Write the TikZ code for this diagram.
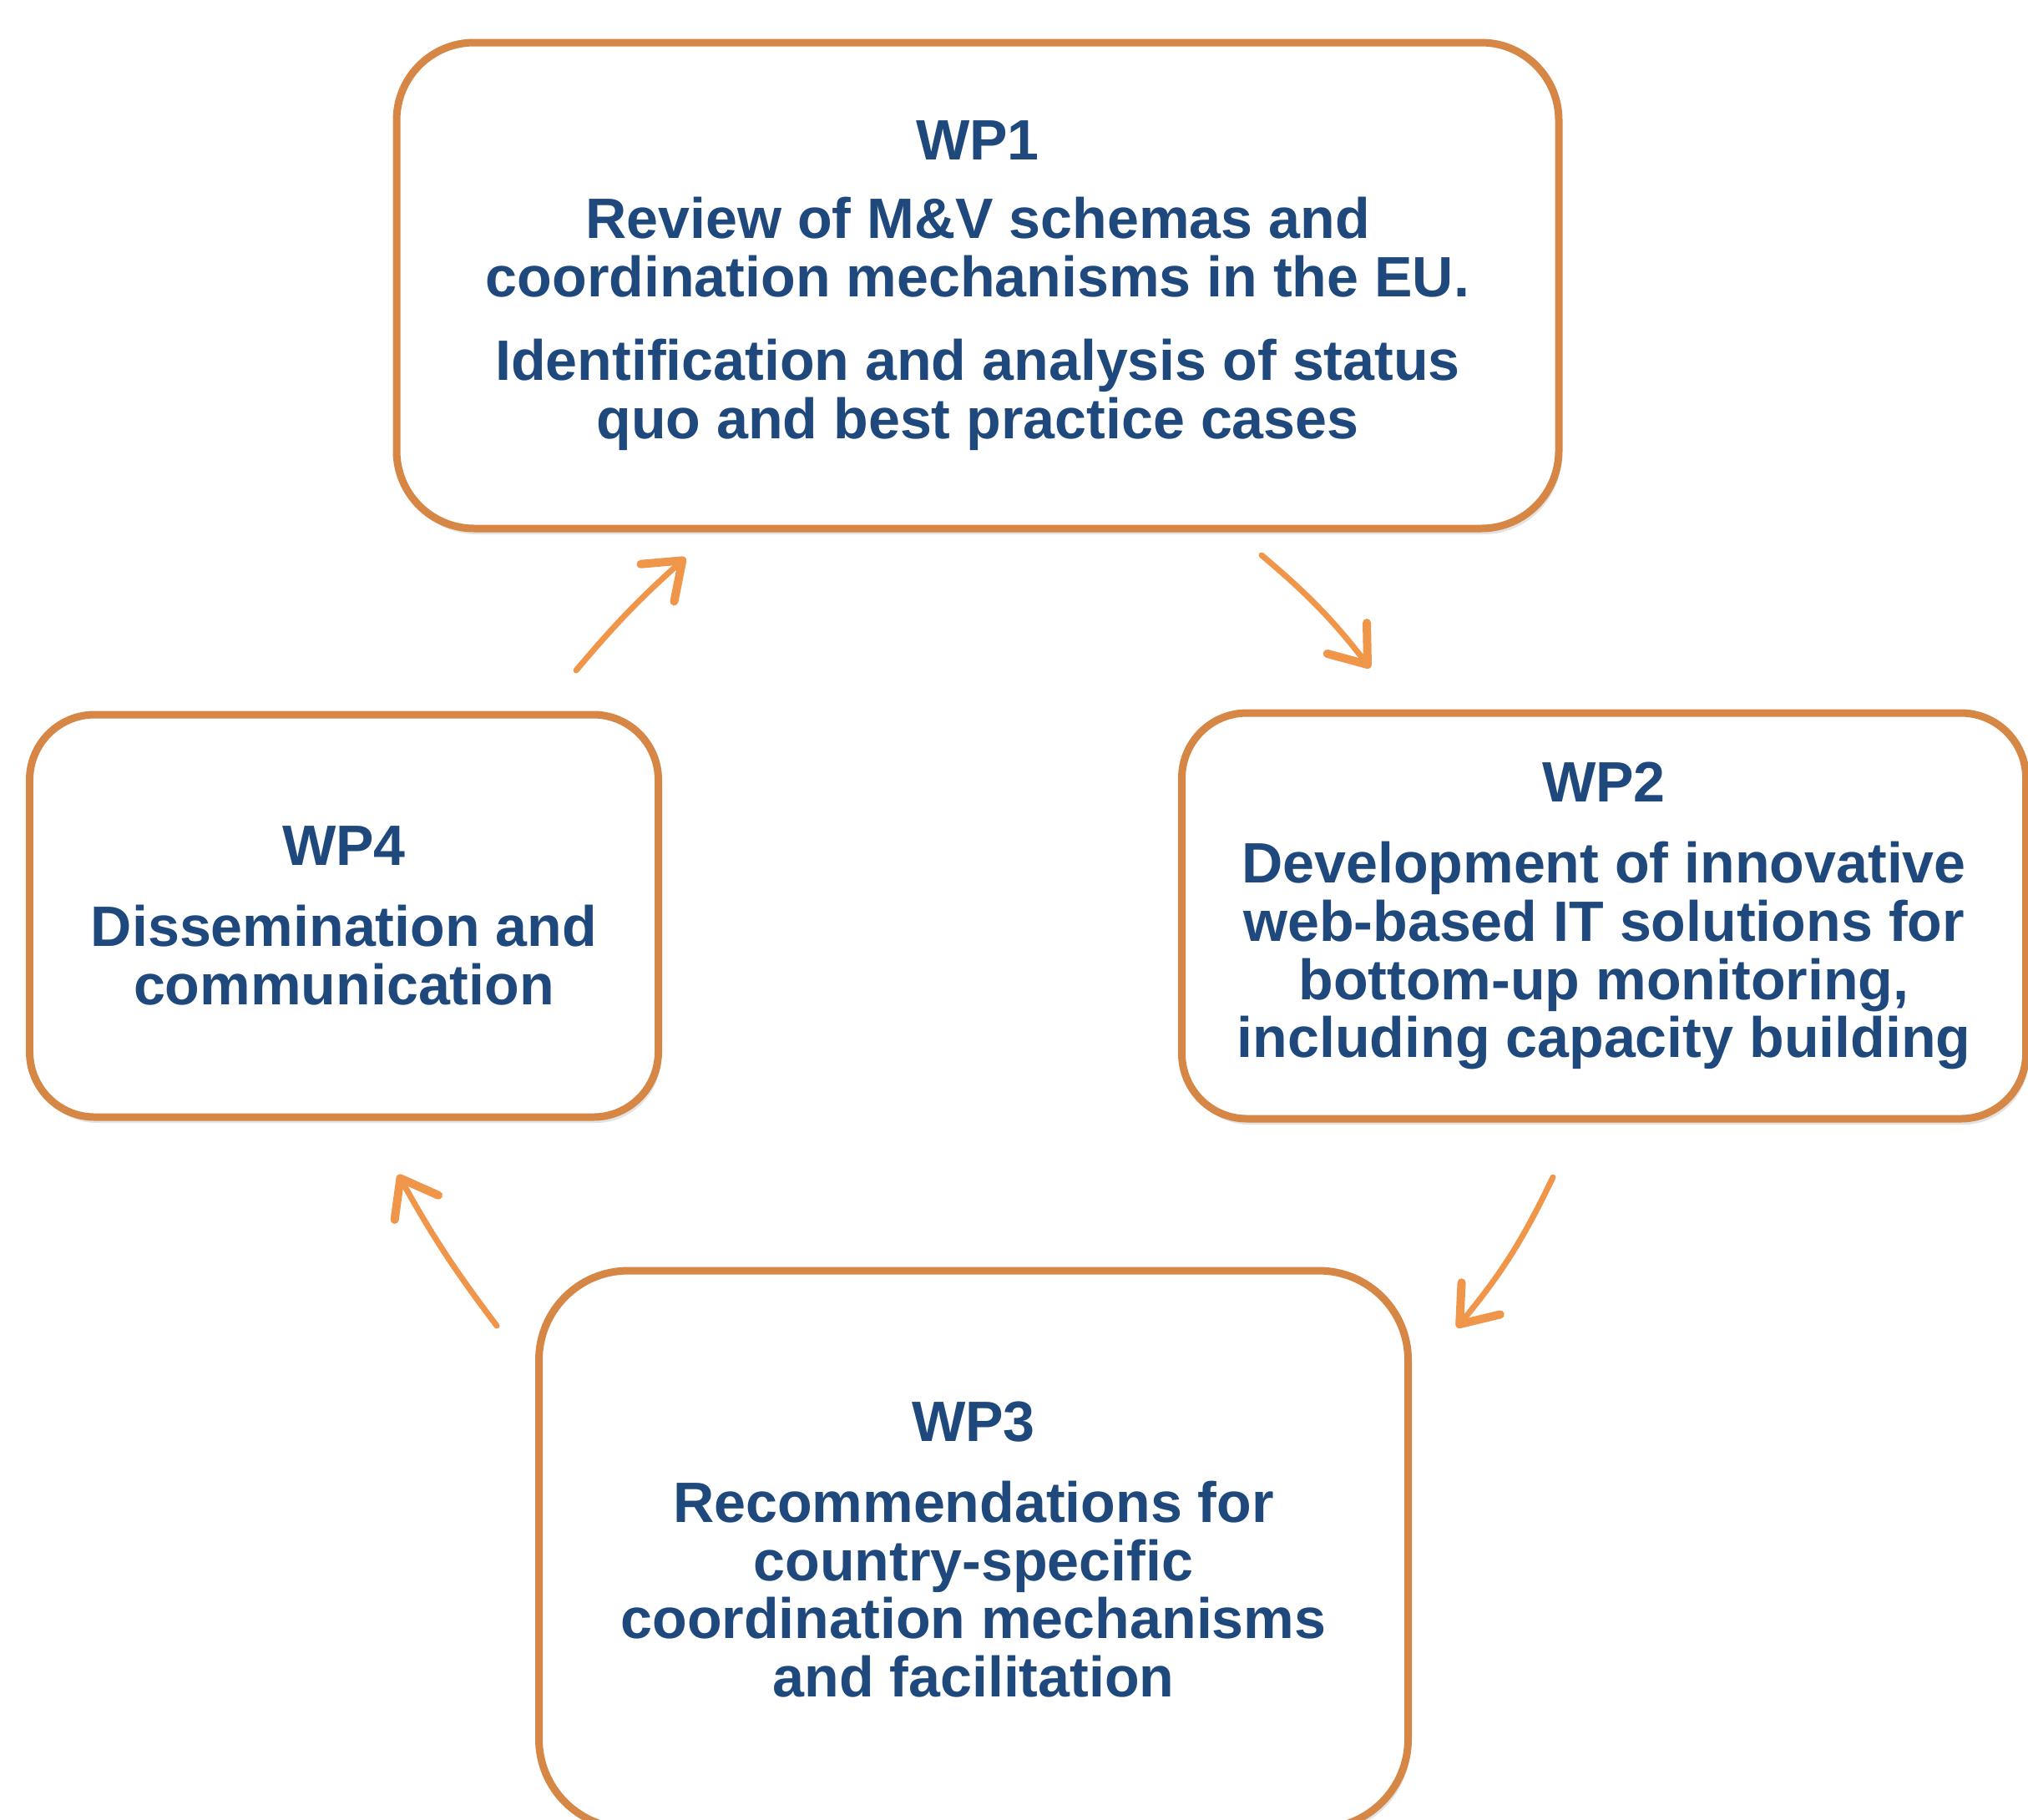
\documentclass[tikz,border=0pt]{standalone}
\usepackage{fontspec}
\setmainfont{Liberation Sans}
\usetikzlibrary{arrows.meta,shadows}
\definecolor{wpborder}{HTML}{D68746}
\definecolor{wparrow}{HTML}{F0964A}
\definecolor{wptext}{HTML}{1F497D}

\begin{document}
\begin{tikzpicture}[
  wpbox/.style={draw=wpborder, line width=0.09cm, fill=white, rounded corners=#1,
    inner sep=0pt, align=center, text=wptext,
    font=\fontsize{19.4}{19.9}\selectfont\bfseries,
    drop shadow={shadow xshift=0.03cm, shadow yshift=-0.07cm, opacity=0.22}},
  wplink/.style={draw=wparrow, line width=0.07cm, line cap=round,
    -{Straight Barb[length=0.4cm,width=0.6cm,line width=0.1cm,round]}}
]
\useasboundingbox (0,0) rectangle (24.29,-21.79);
\clip (0,0) rectangle (24.29,-21.79);

\node[wpbox=0.93cm, minimum width=13.92cm, minimum height=5.82cm] (wp1) at (11.71,-3.42)
  {WP1\\[0.25cm] Review of M\&V schemas and\\ coordination mechanisms in the EU.\\[0.3cm]
   Identification and analysis of status\\ quo and best practice cases};
\node[wpbox=0.78cm, minimum width=10.11cm, minimum height=4.86cm] (wp2) at (19.21,-10.97)
  {WP2\\[0.27cm] Development of innovative\\ web-based IT solutions for\\
   bottom-up monitoring,\\ including capacity building};
\node[wpbox=1.07cm, minimum width=10.41cm, minimum height=6.68cm] (wp3) at (11.66,-18.56)
  {WP3\\[0.27cm] Recommendations for\\ country-specific\\
   coordination mechanisms\\ and facilitation};
\node[wpbox=0.78cm, minimum width=7.53cm, minimum height=4.82cm] (wp4) at (4.12,-10.97)
  {WP4\\[0.27cm] Dissemination and\\ communication};

\coordinate (a41s) at (6.90,-8.03);
\coordinate (a41e) at (8.21,-6.68);
\coordinate (a12s) at (15.11,-6.65);
\coordinate (a12e) at (16.41,-8.00);
\coordinate (a23s) at (18.60,-14.10);
\coordinate (a23e) at (17.45,-15.90);
\coordinate (a34s) at (5.95,-15.88);
\coordinate (a34e) at (4.77,-14.07);

\path[wplink] (a41s) to[bend left=4] (a41e);
\path[wplink] (a12s) to[bend left=6] (a12e);
\path[wplink] (a23s) to[bend left=7] (a23e);
\path[wplink] (a34s) to[bend left=4] (a34e);
\end{tikzpicture}
\end{document}
